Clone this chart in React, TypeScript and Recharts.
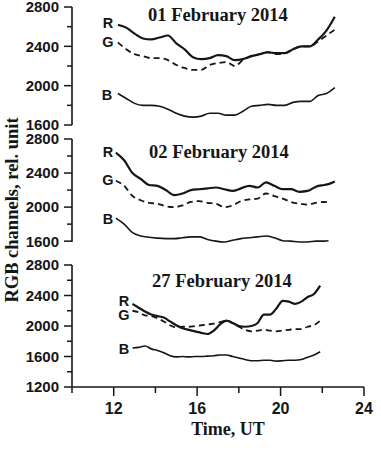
import { LineChart, Line, XAxis, YAxis } from 'recharts';

// panel 1: 01 February 2014
const hours1 = [12.2, 12.6, 13.0, 13.4, 13.8, 14.2, 14.6, 15.0, 15.4, 15.8, 16.2, 16.6, 17.0, 17.4, 17.8, 18.2, 18.6, 19.0, 19.4, 19.8, 20.2, 20.6, 21.0, 21.4, 21.8, 22.2, 22.6];
const red1 = [2620, 2590, 2530, 2480, 2470, 2490, 2510, 2430, 2370, 2290, 2270, 2280, 2310, 2300, 2260, 2270, 2300, 2320, 2340, 2330, 2330, 2370, 2400, 2400, 2470, 2560, 2700];
const green1 = [2440, 2370, 2320, 2300, 2280, 2280, 2260, 2210, 2180, 2160, 2160, 2210, 2230, 2240, 2200, 2260, 2300, 2320, 2340, 2320, 2330, 2370, 2400, 2400, 2450, 2510, 2570];
const blue1 = [1920, 1870, 1820, 1800, 1800, 1790, 1760, 1720, 1690, 1680, 1690, 1720, 1720, 1700, 1700, 1740, 1790, 1800, 1810, 1800, 1800, 1830, 1840, 1840, 1900, 1920, 1980];

// panel 2: 02 February 2014
const hours2 = [12.1, 12.5, 12.9, 13.3, 13.7, 14.1, 14.5, 14.9, 15.3, 15.7, 16.1, 16.5, 16.9, 17.3, 17.7, 18.1, 18.5, 18.9, 19.3, 19.7, 20.1, 20.5, 20.9, 21.3, 21.7, 22.1, 22.3, 22.6];
const red2 = [2640, 2550, 2400, 2330, 2260, 2250, 2200, 2140, 2160, 2200, 2210, 2220, 2230, 2210, 2190, 2220, 2250, 2230, 2290, 2250, 2210, 2210, 2180, 2190, 2240, 2260, 2270, 2300];
const green2 = [2310, 2250, 2130, 2080, 2050, 2040, 2010, 2000, 2020, 2060, 2070, 2050, 2040, 2000, 2020, 2070, 2090, 2100, 2160, 2130, 2100, 2060, 2040, 2030, 2050, 2060, 2057, null];
const blue2 = [1870, 1800, 1700, 1660, 1645, 1635, 1630, 1630, 1640, 1650, 1650, 1620, 1600, 1590, 1610, 1630, 1640, 1650, 1660, 1640, 1605, 1600, 1590, 1590, 1600, 1600, 1605, null];

// panel 3: 27 February 2014
const hours3 = [12.9, 13.2, 13.5, 13.8, 14.1, 14.4, 14.7, 15.0, 15.3, 15.6, 15.9, 16.2, 16.5, 16.8, 17.1, 17.4, 17.7, 18.0, 18.3, 18.6, 18.9, 19.2, 19.5, 19.8, 20.1, 20.4, 20.7, 21.0, 21.3, 21.6, 21.9];
const red3 = [2290, 2240, 2190, 2150, 2130, 2110, 2060, 2010, 1970, 1950, 1930, 1910, 1895, 1940, 2020, 2070, 2040, 2000, 1990, 2000, 2040, 2150, 2150, 2230, 2330, 2320, 2290, 2320, 2380, 2420, 2530];
const green3 = [2200, 2180, 2140, 2130, 2100, 2060, 2010, 1980, 1990, 1990, 2000, 2010, 2020, 2030, 2050, 2070, 2040, 1990, 1950, 1930, 1940, 1950, 1940, 1930, 1940, 1950, 1960, 1960, 1990, 2010, 2070];
const blue3 = [1711, 1720, 1738, 1700, 1680, 1650, 1610, 1595, 1600, 1595, 1600, 1600, 1605, 1610, 1620, 1620, 1600, 1580, 1560, 1545, 1545, 1550, 1550, 1540, 1545, 1550, 1550, 1560, 1590, 1620, 1663];

const yTicksUpper = [1600, 1800, 2000, 2200, 2400, 2600, 2800];
const yTicksLower = [1200, 1400, 1600, 1800, 2000, 2200, 2400, 2600, 2800];
const xTicks = [10, 12, 14, 16, 18, 20, 22, 24];
const xLabels = [12, 16, 20, 24];

const INK = '#161616';

function toRows(hours: number[], r: (number | null)[], g: (number | null)[], b: (number | null)[]) {
  return hours.map((t, i) => ({ t, r: r[i], g: g[i], b: b[i] }));
}

function YTick(props: any) {
  const { x, y, payload } = props;
  const major = payload.value % 400 === 0;
  return (
    <g>
      <line x1={x - (major ? 8 : 5)} x2={x} y1={y} y2={y} stroke={INK} strokeWidth={1.5} />
      {major && (
        <text x={x - 13} y={y} dy="0.36em" textAnchor="end" fill={INK}
          style={{ fontFamily: '"Liberation Sans", Arial, sans-serif', fontWeight: 'bold', fontSize: 15 }}>
          {payload.value}
        </text>
      )}
    </g>
  );
}

function XTick(props: any) {
  const { x, y, payload } = props;
  const labelled = xLabels.includes(payload.value);
  return (
    <g>
      <line x1={x} x2={x} y1={y} y2={y + (labelled ? 9 : 6)} stroke={INK} strokeWidth={1.5} />
      {labelled && (
        <text x={x} y={y + 27} textAnchor="middle" fill={INK}
          style={{ fontFamily: '"Liberation Sans", Arial, sans-serif', fontWeight: 'bold', fontSize: 16 }}>
          {payload.value}
        </text>
      )}
    </g>
  );
}

interface PanelProps {
  rows: { t: number; r: number | null; g: number | null; b: number | null }[];
  top: number;
  height: number;
  margin: { top: number; right: number; bottom: number; left: number };
  yDomain: [number, number];
  yTicks: number[];
  showX?: boolean;
}

function Panel({ rows, top, height, margin, yDomain, yTicks, showX }: PanelProps) {
  return (
    <div style={{ position: 'absolute', left: 0, top }}>
      <LineChart width={381} height={height} data={rows} margin={margin}>
        <XAxis
          dataKey="t"
          type="number"
          domain={[10, 24]}
          ticks={xTicks}
          interval={0}
          hide={!showX}
          height={showX ? 40 : 0}
          tickSize={0}
          tickMargin={0}
          tickLine={false}
          tick={<XTick />}
          axisLine={{ stroke: INK, strokeWidth: 1.6 }}
        />
        <YAxis
          type="number"
          domain={yDomain}
          ticks={yTicks}
          interval={0}
          width={72}
          tickSize={0}
          tickMargin={0}
          tickLine={false}
          tick={<YTick />}
          axisLine={{ stroke: INK, strokeWidth: 1.6 }}
        />
        <Line dataKey="r" type="monotone" stroke={INK} strokeWidth={2.2} dot={false} isAnimationActive={false} />
        <Line dataKey="g" type="monotone" stroke={INK} strokeWidth={1.8} strokeDasharray="6 4" dot={false} isAnimationActive={false} />
        <Line dataKey="b" type="monotone" stroke={INK} strokeWidth={1.6} dot={false} isAnimationActive={false} />
      </LineChart>
    </div>
  );
}

const serif = { fontFamily: '"Liberation Serif", "Times New Roman", serif', fontWeight: 'bold' as const };
const sans = { fontFamily: '"Liberation Sans", Arial, sans-serif', fontWeight: 'bold' as const };

export default function App() {
  return (
    <div style={{ position: 'absolute', left: 0, top: 0, width: 381, height: 451, background: '#fff', overflow: 'hidden' }}>
      <Panel rows={toRows(hours1, red1, green1, blue1)} top={0} height={135}
        margin={{ top: 7, right: 17, bottom: 10, left: 0 }} yDomain={[1600, 2800]} yTicks={yTicksUpper} />
      <Panel rows={toRows(hours2, red2, green2, blue2)} top={129} height={123}
        margin={{ top: 10, right: 17, bottom: 10, left: 0 }} yDomain={[1600, 2800]} yTicks={yTicksUpper} />
      <Panel rows={toRows(hours3, red3, green3, blue3)} top={255} height={196}
        margin={{ top: 10, right: 17, bottom: 24, left: 0 }} yDomain={[1200, 2800]} yTicks={yTicksLower} showX />
      <svg width={381} height={451} style={{ position: 'absolute', left: 0, top: 0, pointerEvents: 'none' }}>
        <g fill={INK} style={serif} fontSize={18.5} textAnchor="middle">
          <text x={218} y={21}>01 February 2014</text>
          <text x={219} y={158}>02 February 2014</text>
          <text x={222} y={287}>27 February 2014</text>
        </g>
        <g fill={INK} style={sans} fontSize={14.5} textAnchor="middle">
          <text x={108} y={28}>R</text>
          <text x={108} y={47}>G</text>
          <text x={107} y={100}>B</text>
          <text x={108} y={157}>R</text>
          <text x={108} y={185}>G</text>
          <text x={108} y={224}>B</text>
          <text x={124} y={306}>R</text>
          <text x={124} y={320}>G</text>
          <text x={124} y={354}>B</text>
        </g>
        <text x={228} y={435} textAnchor="middle" fill={INK} style={serif} fontSize={18}>Time, UT</text>
        <text x={18} y={210} textAnchor="middle" fill={INK} style={serif} fontSize={18.5}
          transform="rotate(-90 18 210)">RGB channels, rel. unit</text>
      </svg>
    </div>
  );
}
